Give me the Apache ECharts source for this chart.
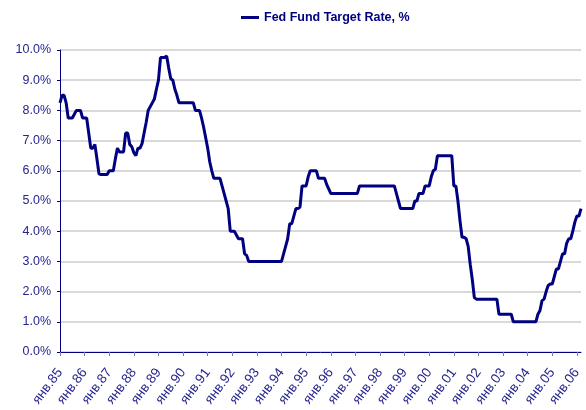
<!DOCTYPE html>
<html>
	<head>
		<meta charset="UTF-8">
		<script type="text/javascript" src="https://cdn.jsdelivr.net/npm/echarts@6/dist/echarts.min.js"></script>
		<title></title>
		<style>
			body { margin: 0; background: #fff; }
		</style>
	</head>
	<body>
		<div id="graph" style="width: 586px; height: 410px;"></div>
	</body>
	<script>
		// monthly target rate, %, from Jan 1985
		var rates85_89 = [
			8.25, 8.5, 8.5, 8.25, 7.75, 7.75, 7.75, 7.875, 8.0, 8.0, 8.0, 7.75,
			7.75, 7.75, 7.25, 6.75, 6.75, 6.875, 6.4, 5.9, 5.875, 5.875, 5.875, 5.875,
			6.0, 6.0, 6.0, 6.4, 6.75, 6.625, 6.625, 6.625, 7.25, 7.25, 6.875, 6.8,
			6.6, 6.5, 6.75, 6.75, 6.9, 7.25, 7.6, 8.0, 8.125, 8.25, 8.375, 8.7,
			9.0, 9.75, 9.75, 9.75, 9.8, 9.4, 9.05, 9.0, 8.7, 8.5, 8.25, 8.25
		];
		var rates90_94 = [
			8.25, 8.25, 8.25, 8.25, 8.25, 8.25, 8.0, 8.0, 8.0, 7.75, 7.45, 7.1,
			6.75, 6.3, 6.0, 5.75, 5.75, 5.75, 5.75, 5.5, 5.25, 5.0, 4.75, 4.0,
			4.0, 4.0, 3.875, 3.75, 3.75, 3.75, 3.25, 3.2, 3.0, 3.0, 3.0, 3.0,
			3.0, 3.0, 3.0, 3.0, 3.0, 3.0, 3.0, 3.0, 3.0, 3.0, 3.0, 3.0,
			3.0, 3.25, 3.5, 3.75, 4.25, 4.25, 4.5, 4.75, 4.75, 4.8, 5.5, 5.5
		];
		var rates95_99 = [
			5.5, 5.8, 6.0, 6.0, 6.0, 6.0, 5.75, 5.75, 5.75, 5.75, 5.55, 5.4,
			5.25, 5.25, 5.25, 5.25, 5.25, 5.25, 5.25, 5.25, 5.25, 5.25, 5.25, 5.25,
			5.25, 5.25, 5.5, 5.5, 5.5, 5.5, 5.5, 5.5, 5.5, 5.5, 5.5, 5.5,
			5.5, 5.5, 5.5, 5.5, 5.5, 5.5, 5.5, 5.5, 5.25, 5.0, 4.75, 4.75,
			4.75, 4.75, 4.75, 4.75, 4.75, 5.0, 5.0, 5.25, 5.25, 5.25, 5.5, 5.5
		];
		var rates00_06 = [
			5.5, 5.8, 6.0, 6.05, 6.5, 6.5, 6.5, 6.5, 6.5, 6.5, 6.5, 6.5,
			5.5, 5.5, 5.0, 4.35, 3.8, 3.8, 3.75, 3.5, 2.9, 2.4, 1.8, 1.75,
			1.75, 1.75, 1.75, 1.75, 1.75, 1.75, 1.75, 1.75, 1.75, 1.75, 1.25, 1.25,
			1.25, 1.25, 1.25, 1.25, 1.25, 1.0, 1.0, 1.0, 1.0, 1.0, 1.0, 1.0,
			1.0, 1.0, 1.0, 1.0, 1.0, 1.25, 1.375, 1.7, 1.75, 2.0, 2.2, 2.25,
			2.25, 2.5, 2.75, 2.75, 3.0, 3.25, 3.25, 3.6, 3.75, 3.75, 4.0, 4.3,
			4.5, 4.5, 4.75
		];
		var monthNames = ['янв', 'фев', 'мар', 'апр', 'май', 'июн', 'июл', 'авг', 'сен', 'окт', 'ноя', 'дек'];
		var startYear = 1985;

		var rates = rates85_89.concat(rates90_94, rates95_99, rates00_06);
		var categories = [];
		for (var i = 0; i < rates.length; i++) {
			var yy = (startYear + Math.floor(i / 12)) % 100;
			categories.push(monthNames[i % 12] + '.' + (yy < 10 ? '0' + yy : yy));
		}

		var navy = '#000080';
		var textColor = '#24248c';
		var myChart = echarts.init(document.getElementById('graph'));
		var option = {
			animation: false,
			textStyle: { fontFamily: 'Liberation Sans, Arial, sans-serif' },
			legend: {
				left: 236,
				top: 6,
				icon: 'rect',
				itemWidth: 18,
				itemHeight: 3,
				itemGap: 5,
				textStyle: { color: navy, fontWeight: 'bold', fontSize: 12.5 },
				data: ['Fed Fund Target Rate, %']
			},
			grid: { left: 60, right: 5, top: 50, bottom: 58 },
			xAxis: {
				type: 'category',
				boundaryGap: false,
				data: categories,
				axisLine: { lineStyle: { color: navy, width: 1 } },
				axisTick: { interval: 11, length: 4, lineStyle: { color: '#7878b8' } },
				axisLabel: { interval: 11, rotate: 53, margin: 18, color: textColor, fontSize: 13.5 },
				splitLine: { show: false }
			},
			yAxis: {
				type: 'value',
				min: 0,
				max: 10,
				interval: 1,
				axisLine: { show: true, lineStyle: { color: navy, width: 1 } },
				axisTick: { show: true, length: 3, lineStyle: { color: navy } },
				axisLabel: {
					color: textColor,
					fontSize: 12.5,
					margin: 9,
					formatter: function (v) { return v.toFixed(1) + '%'; }
				},
				splitLine: { lineStyle: { color: '#cdcdcd', width: 1.5 } }
			},
			series: [{
				name: 'Fed Fund Target Rate, %',
				type: 'line',
				data: rates,
				showSymbol: false,
				symbol: 'none',
				lineStyle: { color: navy, width: 3 },
				itemStyle: { color: navy }
			}]
		};
		myChart.setOption(option);
	</script>
</html>
